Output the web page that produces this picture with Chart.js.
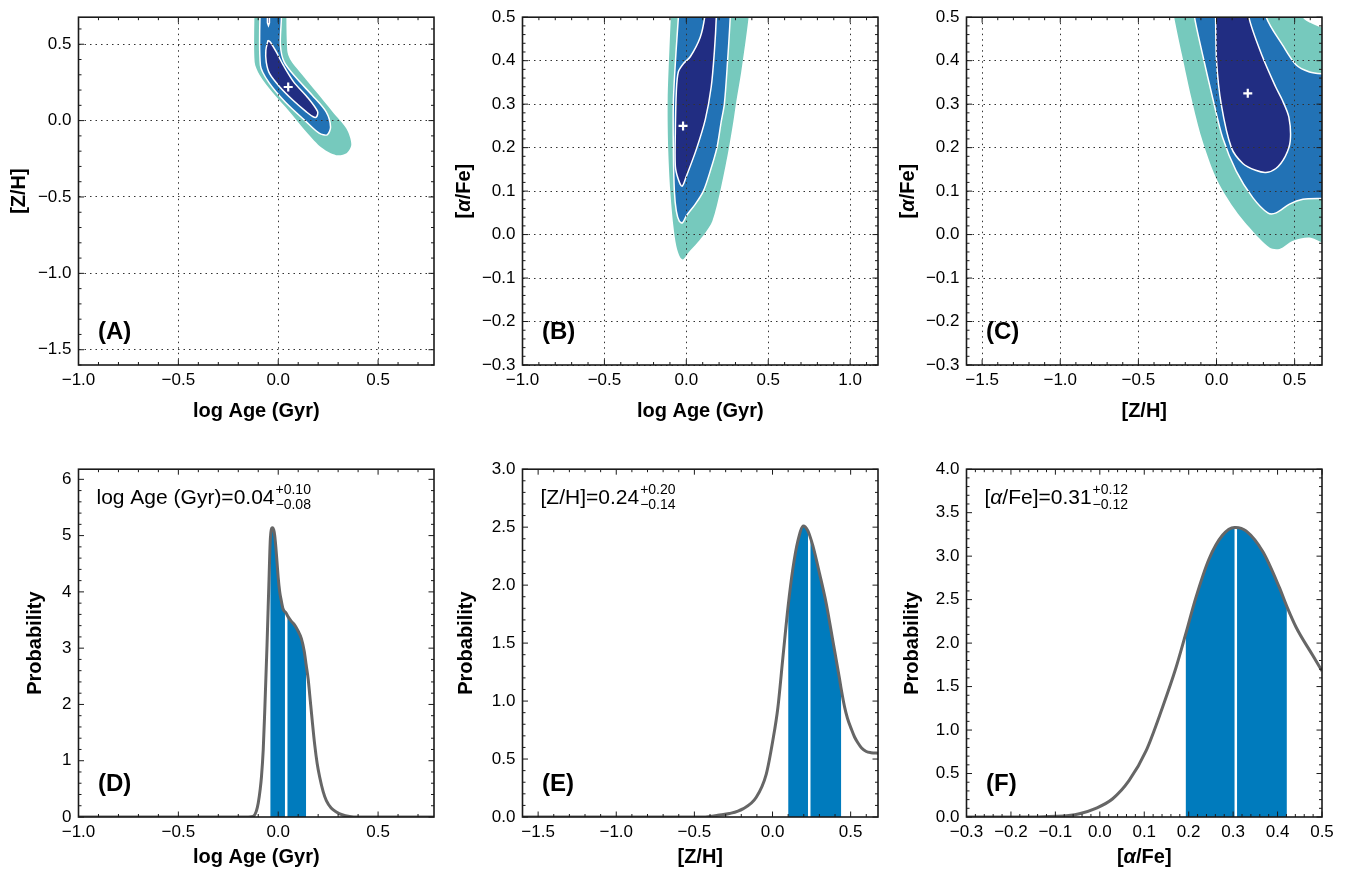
<!DOCTYPE html>
<html><head><meta charset="utf-8">
<script src="https://cdn.jsdelivr.net/npm/chart.js@4.4.1/dist/chart.umd.min.js"></script>
<style>
html,body{margin:0;padding:0;background:#fff;width:1346px;height:877px;overflow:hidden;}
canvas{position:absolute;}
</style></head><body>
<canvas id="cA" width="458" height="435" style="left:0px;top:0px"></canvas>
<canvas id="cB" width="458" height="435" style="left:444px;top:0px"></canvas>
<canvas id="cC" width="458" height="435" style="left:888px;top:0px"></canvas>
<canvas id="cD" width="458" height="425" style="left:0px;top:452px"></canvas>
<canvas id="cE" width="458" height="425" style="left:444px;top:452px"></canvas>
<canvas id="cF" width="458" height="425" style="left:888px;top:452px"></canvas>
<script>
// ---------------- tick labels ----------------
const ticksAge = [-1.0, -0.5, 0.0, 0.5];
const ticksAgeB = [-1.0, -0.5, 0.0, 0.5, 1.0];
const ticksZH = [-1.5, -1.0, -0.5, 0.0, 0.5];
const ticksAFe = [-0.3, -0.2, -0.1, 0.0, 0.1, 0.2, 0.3, 0.4, 0.5];
const ticksProbD = [0, 1, 2, 3, 4, 5, 6];
const ticksProbE = [0.0, 0.5, 1.0, 1.5, 2.0, 2.5, 3.0];
const ticksProbF = [0.0, 0.5, 1.0, 1.5, 2.0, 2.5, 3.0, 3.5, 4.0];

// ---------------- (A) log Age vs [Z/H] contours ----------------
const contA68 = [[-0.051,0.526],[-0.062,0.46],[-0.06,0.383],[-0.043,0.307],[0.008,0.22],[0.074,0.133],[0.141,0.057],[0.175,0.025],[0.192,0.025],[0.197,0.06],[0.145,0.155],[0.078,0.252],[0.026,0.361],[-0.009,0.448],[-0.039,0.513],[-0.051,0.526]];
const contA68b = [[-0.054,0.8],[-0.054,0.64],[-0.049,0.622],[-0.044,0.64],[-0.044,0.8],[-0.054,0.8]];
const contA95 = [[-0.09,0.8],[-0.089,0.361],[-0.048,0.252],[0.035,0.122],[0.141,-0.008],[0.205,-0.082],[0.245,-0.093],[0.262,-0.041],[0.24,0.057],[0.17,0.166],[0.09,0.28],[0.03,0.383],[0.011,0.492],[0.008,0.8],[-0.09,0.8]];
const contA99 = [[-0.118,0.8],[-0.118,0.383],[-0.093,0.299],[-0.03,0.187],[0.058,0.057],[0.141,-0.074],[0.22,-0.18],[0.29,-0.226],[0.342,-0.214],[0.366,-0.155],[0.341,-0.052],[0.2725,0.057],[0.191,0.187],[0.108,0.318],[0.06,0.4],[0.045,0.46],[0.04,0.8]];
const bestA = [[0.05, 0.22]];

// ---------------- (B) log Age vs [alpha/Fe] contours ----------------
const contB68 = [[0.125,0.56],[0.112,0.5],[0.085,0.454],[0.024,0.409],[-0.018,0.393],[-0.049,0.374],[-0.061,0.329],[-0.067,0.237],[-0.067,0.157],[-0.049,0.127],[-0.026,0.111],[0.0,0.134],[0.061,0.196],[0.116,0.265],[0.152,0.340],[0.171,0.420],[0.183,0.5],[0.185,0.56],[0.125,0.56]];
const contB95 = [[-0.037,0.56],[-0.061,0.431],[-0.079,0.306],[-0.079,0.191],[-0.073,0.1],[-0.061,0.054],[-0.043,0.031],[-0.024,0.027],[0.0,0.043],[0.055,0.070],[0.104,0.1],[0.146,0.146],[0.187,0.2],[0.213,0.26],[0.232,0.3],[0.252,0.4],[0.268,0.5],[0.272,0.56],[-0.037,0.56]];
const contB99 = [[-0.087,0.56],[-0.102,0.436],[-0.114,0.306],[-0.11,0.191],[-0.098,0.1],[-0.079,0.02],[-0.061,-0.026],[-0.037,-0.053],[-0.018,-0.057],[0.012,-0.042],[0.067,-0.019],[0.116,0.004],[0.159,0.031],[0.207,0.1],[0.256,0.191],[0.287,0.26],[0.305,0.306],[0.335,0.374],[0.38,0.5],[0.39,0.56]];
const bestB = [[-0.02, 0.25]];

// ---------------- (C) [Z/H] vs [alpha/Fe] contours ----------------
const contC68 = [[-0.01,0.56],[-0.006,0.5],[0.0,0.4],[0.03,0.3],[0.095,0.2],[0.17,0.163],[0.25,0.148],[0.316,0.143],[0.38,0.152],[0.44,0.18],[0.472,0.216],[0.463,0.27],[0.42,0.31],[0.378,0.34],[0.293,0.41],[0.207,0.5],[0.2,0.56],[-0.01,0.56]];
const contC95 = [[-0.16,0.56],[-0.141,0.5],[-0.088,0.412],[-0.024,0.313],[0.040,0.222],[0.126,0.146],[0.232,0.085],[0.328,0.050],[0.382,0.050],[0.467,0.070],[0.553,0.081],[0.67,0.083],[0.8,0.083],[0.8,0.37],[0.67,0.37],[0.595,0.374],[0.510,0.390],[0.424,0.435],[0.318,0.5],[0.30,0.56],[-0.16,0.56]];
const contC99 = [[-0.30,0.56],[-0.271,0.5],[-0.22,0.412],[-0.16,0.313],[-0.095,0.222],[-0.004,0.131],[0.094,0.070],[0.211,0.016],[0.339,-0.030],[0.403,-0.033],[0.489,-0.014],[0.595,-0.007],[0.68,-0.018],[0.8,-0.02],[0.8,0.474],[0.67,0.477],[0.6,0.487],[0.553,0.5],[0.54,0.56]];
const bestC = [[0.2, 0.325]];

// ---------------- (D) log Age PDF ----------------
const ageX  = [-1.0,-0.2,-0.15,-0.126,-0.11,-0.1,-0.09,-0.084,-0.075,-0.0675,-0.056,-0.046,-0.04,-0.035,-0.029,-0.0225,-0.0175,-0.012,-0.006,0.0,0.0075,0.015,0.024,0.04,0.049,0.065,0.0825,0.1,0.116,0.13,0.14,0.15,0.1575,0.17,0.1825,0.195,0.2075,0.225,0.241,0.265,0.291,0.32,0.3575,0.4,0.78];
const ageP  = [0,0,0,0.01,0.1,0.25,0.5,0.71,1.2,1.88,3.06,4.23,4.9,5.1,5.14,5.1,5.0,4.8,4.53,4.25,4.0,3.85,3.70,3.62,3.56,3.48,3.41,3.3,3.17,2.95,2.7,2.45,2.18,1.72,1.29,0.95,0.71,0.45,0.29,0.16,0.09,0.04,0.01,0,0];
const ageCI = [-0.04, 0.04, 0.14];   // lower, median, upper

// ---------------- (E) [Z/H] PDF ----------------
const zhX = [-1.6,-0.6,-0.45,-0.4,-0.35,-0.275,-0.19,-0.104,-0.04,0.002,0.034,0.066,0.10,0.130,0.162,0.198,0.226,0.235,0.258,0.301,0.344,0.386,0.429,0.44,0.461,0.48,0.504,0.525,0.546,0.57,0.6,0.63,0.68];
const zhP = [0,0,0,0.005,0.015,0.03,0.07,0.17,0.37,0.66,0.94,1.37,1.82,2.14,2.38,2.51,2.47,2.44,2.34,2.10,1.84,1.52,1.19,1.10,0.95,0.85,0.76,0.69,0.64,0.595,0.565,0.555,0.55];
const zhCI = [0.10, 0.235, 0.44];

// ---------------- (F) [alpha/Fe] PDF ----------------
const afeX = [-0.3,-0.15,-0.099,-0.07,-0.046,-0.009,0.029,0.066,0.104,0.141,0.171,0.193,0.216,0.246,0.276,0.303,0.306,0.329,0.367,0.404,0.421,0.442,0.479,0.5];
const afeP = [0,0,0.008,0.018,0.038,0.10,0.21,0.42,0.76,1.26,1.71,2.10,2.52,2.97,3.24,3.33,3.33,3.29,3.05,2.64,2.42,2.18,1.86,1.68];
const afeCI = [0.193, 0.306, 0.421];

// ---------------- styling ----------------
const FONT = "'Liberation Sans', Arial, Helvetica, sans-serif";
const C_OUT = '#76C9BD', C_MID = '#2272B5', C_IN = '#212D82', C_SHADE = '#007BBD', C_CURVE = '#666666';

const fmt = (v, dec) => (v < -1e-9 ? '\u2212' : '') + Math.abs(v).toFixed(dec);

function scale(min, max, ticks, dec, grid, isX, fitSize) {
  return {
    type: 'linear', min, max,
    afterBuildTicks: s => { s.ticks = ticks.map(v => ({ value: v })); },
    afterFit: s => { if (isX) s.height = fitSize; else s.width = fitSize; },
    ticks: { autoSkip: false, maxRotation: 0, minRotation: 0, padding: isX ? 5 : 7, color: '#000',
             font: { family: FONT, size: 17 }, callback: v => fmt(v, dec) },
    grid: grid ? { display: true, drawTicks: false, color: '#333', lineWidth: 1, z: 1 }
               : { display: false, drawTicks: false },
    border: { display: false, dash: [1.5, 4] }
  };
}

function runs(ctx, parts, x, y) {
  for (const p of parts) {
    ctx.font = p.f; ctx.fillText(p.t, x, y); x += ctx.measureText(p.t).width;
  }
  return x;
}
function runsWidth(ctx, parts) {
  let w = 0; for (const p of parts) { ctx.font = p.f; w += ctx.measureText(p.t).width; } return w;
}

const decor = {
  id: 'decor',
  afterDraw(chart, args, o) {
    const { ctx, chartArea: a } = chart;
    const sx = chart.scales.x, sy = chart.scales.y;
    ctx.save();
    ctx.strokeStyle = '#1a1a1a'; ctx.lineWidth = 1;
    const tk = (s, minor, major, hor) => {
      const n0 = Math.ceil(s.min / minor - 1e-6), n1 = Math.floor(s.max / minor + 1e-6);
      for (let n = n0; n <= n1; n++) {
        const v = n * minor;
        const isMaj = Math.abs(v / major - Math.round(v / major)) < 1e-6;
        const len = isMaj ? 5.5 : 3;
        const p = s.getPixelForValue(v);
        ctx.beginPath();
        if (hor) { ctx.moveTo(p, a.bottom); ctx.lineTo(p, a.bottom - len); ctx.moveTo(p, a.top); ctx.lineTo(p, a.top + len); }
        else { ctx.moveTo(a.left, p); ctx.lineTo(a.left + len, p); ctx.moveTo(a.right, p); ctx.lineTo(a.right - len, p); }
        ctx.stroke();
      }
    };
    tk(sx, o.xMinor, o.xMajor, true);
    tk(sy, o.yMinor, o.yMajor, false);
    ctx.lineWidth = 1.6; ctx.strokeStyle = '#1a1a1a';
    ctx.strokeRect(a.left, a.top, a.right - a.left, a.bottom - a.top);

    ctx.fillStyle = '#000'; ctx.textBaseline = 'middle'; ctx.textAlign = 'left';
    const w = runsWidth(ctx, o.xTitle);
    runs(ctx, o.xTitle, (a.left + a.right) / 2 - w / 2, a.bottom + o.xTitleDy);
    ctx.save();
    ctx.translate(a.left - o.yTitleDx, (a.top + a.bottom) / 2);
    ctx.rotate(-Math.PI / 2);
    const wy = runsWidth(ctx, o.yTitle);
    runs(ctx, o.yTitle, -wy / 2, 0);
    ctx.restore();
    ctx.textBaseline = 'alphabetic';
    ctx.font = 'bold 24px ' + FONT;
    ctx.fillText(o.label, a.left + 19.5, a.bottom - 26.5);
    if (o.annot) {
      const base = a.top + 35;
      const x1 = runs(ctx, o.annot.main, a.left + 18, base);
      ctx.font = '14px ' + FONT;
      ctx.fillText(o.annot.sup, x1 + 1, base - 10);
      ctx.fillText(o.annot.sub, x1 + 1, base + 4.5);
    }
    ctx.restore();
  }
};

const R = t => ({ t, f: '21px ' + FONT });
const I = t => ({ t, f: 'italic 21px ' + FONT });
const B = t => ({ t, f: 'bold 20px ' + FONT });
const BI = t => ({ t, f: 'italic bold 20px ' + FONT });

const pts = arr => arr.map(p => ({ x: p[0], y: p[1] }));

function contourSets(c68, c95, c99, best, extra) {
  const sets = [
    { data: pts(best), showLine: false, pointStyle: 'cross', pointRadius: 4.5, pointBorderWidth: 2.2, pointBorderColor: '#fff', order: 0 },
    { data: pts(c68), showLine: true, fill: 'shape', backgroundColor: C_IN, borderColor: '#fff', borderWidth: 1.5, pointRadius: 0, tension: 0.3, order: 1 },
    { data: pts(c95), showLine: true, fill: 'shape', backgroundColor: C_MID, borderColor: '#fff', borderWidth: 1.5, pointRadius: 0, tension: 0.3, order: 2 },
    { data: pts(c99), showLine: true, fill: 'shape', backgroundColor: C_OUT, borderColor: 'rgba(0,0,0,0)', borderWidth: 0, pointRadius: 0, tension: 0.3, order: 3 }
  ];
  if (extra) sets.push({ data: pts(extra), showLine: true, fill: 'shape', backgroundColor: C_IN, borderColor: '#fff', borderWidth: 1.5, pointRadius: 0, tension: 0, order: 1 });
  return sets;
}

function pdfSets(xs, ps, ci) {
  const curve = xs.map((x, i) => ({ x, y: ps[i] }));
  const shade = curve.filter(p => p.x >= ci[0] - 1e-9 && p.x <= ci[2] + 1e-9);
  const mi = xs.findIndex(x => Math.abs(x - ci[1]) < 1e-9);
  const med = [{ x: ci[1], y: 0 }, { x: ci[1], y: ps[mi] }];
  return [
    { data: curve, showLine: true, borderColor: C_CURVE, borderWidth: 3, pointRadius: 0, cubicInterpolationMode: 'monotone', fill: false, order: 0 },
    { data: med, showLine: true, borderColor: '#fff', borderWidth: 2.5, pointRadius: 0, fill: false, order: 1 },
    { data: shade, showLine: true, borderColor: 'rgba(0,0,0,0)', borderWidth: 0, backgroundColor: C_SHADE, pointRadius: 0, cubicInterpolationMode: 'monotone', fill: 'origin', order: 2 }
  ];
}

function make(id, datasets, xs, ys, dec, padTop) {
  new Chart(document.getElementById(id), {
    type: 'scatter',
    data: { datasets },
    options: {
      responsive: false, animation: false, events: [],
      layout: { padding: { top: padTop, right: 24, left: 0, bottom: 0 } },
      elements: { line: { capBezierPoints: false } },
      plugins: { legend: { display: false }, tooltip: { enabled: false }, decor: dec },
      scales: { x: xs, y: ys }
    },
    plugins: [decor]
  });
}

const ageTitle = [B('log Age (Gyr)')];
const zhTitle = [B('[Z/H]')];
const afeTitle = [B('['), BI('\u03B1'), B('/Fe]')];
const probTitle = [B('Probability')];

make('cA', contourSets(contA68, contA95, contA99, bestA, contA68b),
  scale(-1.0, 0.78, ticksAge, 1, true, true, 70), scale(-1.6, 0.677, ticksZH, 1, true, false, 78.5),
  { xMinor: 0.1, xMajor: 0.5, yMinor: 0.1, yMajor: 0.5, xTitle: ageTitle, yTitle: zhTitle, xTitleDy: 46, yTitleDx: 59.5, label: '(A)' }, 15);

make('cB', contourSets(contB68, contB95, contB99, bestB),
  scale(-1.0, 1.17, ticksAgeB, 1, true, true, 70), scale(-0.3, 0.5, ticksAFe, 1, true, false, 78.5),
  { xMinor: 0.1, xMajor: 0.5, yMinor: 0.02, yMajor: 0.1, xTitle: ageTitle, yTitle: afeTitle, xTitleDy: 46, yTitleDx: 58, label: '(B)' }, 15);

make('cC', contourSets(contC68, contC95, contC99, bestC),
  scale(-1.6, 0.675, ticksZH, 1, true, true, 70), scale(-0.3, 0.5, ticksAFe, 1, true, false, 78.5),
  { xMinor: 0.1, xMajor: 0.5, yMinor: 0.02, yMajor: 0.1, xTitle: zhTitle, yTitle: afeTitle, xTitleDy: 46, yTitleDx: 58, label: '(C)' }, 15);

make('cD', pdfSets(ageX, ageP, ageCI),
  scale(-1.0, 0.78, ticksAge, 1, false, true, 60), scale(0, 6.18, ticksProbD, 0, false, false, 78.5),
  { xMinor: 0.1, xMajor: 0.5, yMinor: 0.2, yMajor: 1, xTitle: ageTitle, yTitle: probTitle, xTitleDy: 40, yTitleDx: 43.5, label: '(D)',
    annot: { main: [R('log Age (Gyr)=0.04')], sup: '+0.10', sub: '\u22120.08' } }, 14.7);

make('cE', pdfSets(zhX, zhP, zhCI),
  scale(-1.6, 0.675, ticksZH, 1, false, true, 60), scale(0, 3.0, ticksProbE, 1, false, false, 78.5),
  { xMinor: 0.1, xMajor: 0.5, yMinor: 0.1, yMajor: 0.5, xTitle: zhTitle, yTitle: probTitle, xTitleDy: 40, yTitleDx: 56, label: '(E)',
    annot: { main: [R('[Z/H]=0.24')], sup: '+0.20', sub: '\u22120.14' } }, 14.7);

make('cF', pdfSets(afeX, afeP, afeCI),
  scale(-0.3, 0.5, ticksAFe, 1, false, true, 60), scale(0, 4.0, ticksProbF, 1, false, false, 78.5),
  { xMinor: 0.02, xMajor: 0.1, yMinor: 0.1, yMajor: 0.5, xTitle: afeTitle, yTitle: probTitle, xTitleDy: 40, yTitleDx: 54, label: '(F)',
    annot: { main: [R('['), I('\u03B1'), R('/Fe]=0.31')], sup: '+0.12', sub: '\u22120.12' } }, 14.7);
</script>
</body></html>
